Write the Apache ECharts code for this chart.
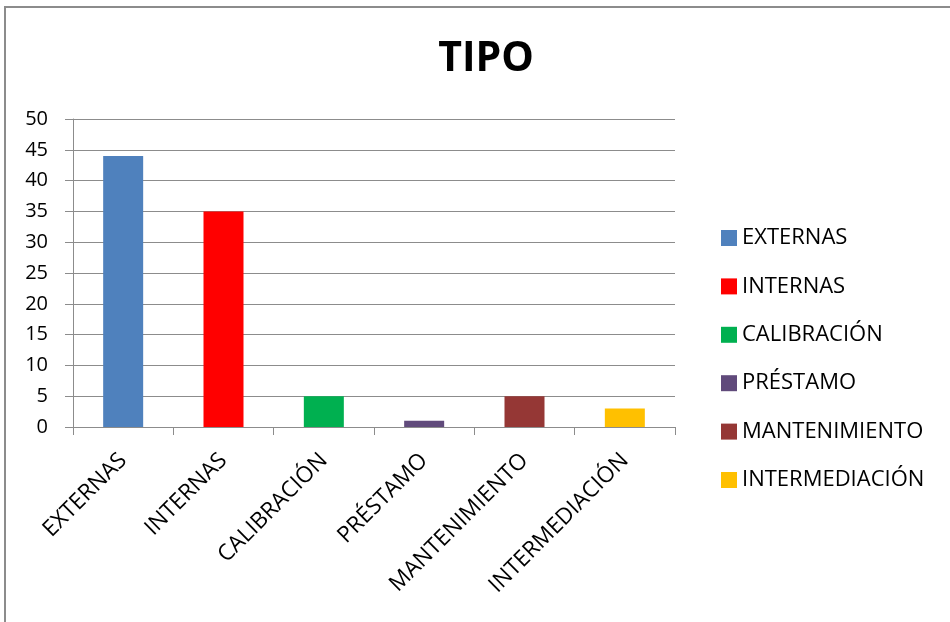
<!DOCTYPE html>
<html>
<head>
<meta charset="utf-8">
<script src="https://cdn.jsdelivr.net/npm/echarts@6/dist/echarts.min.js"></script>
<style>
  html, body { margin: 0; padding: 0; background: #fff; }
  #chart { width: 950px; height: 622px; }
</style>
</head>
<body>
<div id="chart"></div>
<script>
// datos del gráfico
const categories = ['EXTERNAS', 'INTERNAS', 'CALIBRACIÓN', 'PRÉSTAMO', 'MANTENIMIENTO', 'INTERMEDIACIÓN']
const values = [44, 35, 5, 1, 5, 3]
const colors = ['#4F81BD', '#FF0000', '#00B050', '#604A7B', '#953735', '#FFC000']

const chart = echarts.init(document.getElementById('chart'))

// una serie por categoría para que la leyenda muestre cada una
const series = categories.map((name, idx) => ({
  name: name,
  type: 'bar',
  stack: 'tipo',
  barWidth: 40,
  data: values.map((v, i) => (i === idx ? v : '-')),
  itemStyle: { color: colors[idx] }
}))

const font = 'Open Sans'

const option = {
  animation: false,
  color: colors,
  title: {
    text: 'TIPO',
    left: 481,
    textAlign: 'center',
    top: 34,
    textStyle: { fontFamily: font, fontSize: 41, fontWeight: 'bold', color: '#000' }
  },
  legend: {
    orient: 'vertical',
    left: 716,
    top: 222,
    icon: 'rect',
    itemWidth: 16,
    itemHeight: 16,
    itemGap: 26.4,
    data: categories,
    textStyle: { fontFamily: font, fontSize: 22, color: '#000', padding: [0, 0, 0, 0] }
  },
  grid: {
    left: 73,
    right: 275,
    top: 119,
    bottom: 195
  },
  xAxis: {
    type: 'category',
    data: categories,
    axisLine: { lineStyle: { color: '#8c8c8c', width: 1 } },
    axisTick: { show: true, length: 8, alignWithLabel: false, lineStyle: { color: '#8c8c8c' } },
    axisLabel: {
      rotate: 45,
      interval: 0,
      margin: 30,
      fontFamily: font,
      fontSize: 22.5,
      color: '#000'
    }
  },
  yAxis: {
    type: 'value',
    min: 0,
    max: 50,
    interval: 5,
    axisLine: { show: true, lineStyle: { color: '#8c8c8c' } },
    axisTick: { show: true, length: 8, lineStyle: { color: '#8c8c8c' } },
    splitLine: { lineStyle: { color: '#8c8c8c', width: 1 } },
    axisLabel: { fontFamily: font, fontSize: 20, color: '#000', margin: 25 }
  },
  graphic: [{
    type: 'rect',
    silent: true,
    shape: { x: 5, y: 7, width: 1000, height: 1000 },
    style: { fill: 'none', stroke: '#8c8c8c', lineWidth: 2 }
  }],
  series: series
}

chart.setOption(option)
</script>
</body>
</html>
